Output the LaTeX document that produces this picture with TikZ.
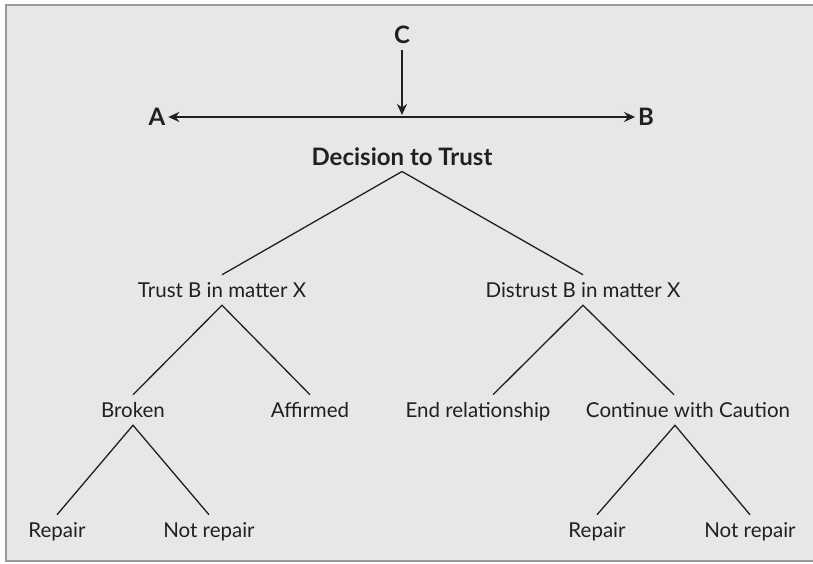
\documentclass[tikz,border=0pt]{standalone}
\usepackage{fontspec}
\setmainfont{Lato}
\usetikzlibrary{arrows.meta}
\definecolor{panel}{HTML}{E6E7E8}
\definecolor{frame}{HTML}{9A9A9A}
\definecolor{ink}{HTML}{231F20}
\begin{document}
\begin{tikzpicture}[x=1pt,y=-1pt,
  lbl/.style={inner sep=0pt, outer sep=8pt, text height=14.5pt, text depth=0pt, font=\fontsize{20.5}{20.5}\selectfont, text=ink},
  blbl/.style={lbl, text height=17pt, font=\fontsize{24}{24}\selectfont\bfseries},
  branch/.style={draw=ink, line width=1.3pt},
  axis/.style={draw=ink, line width=2pt, -{Stealth[length=11pt,width=10pt]}}]
\useasboundingbox (0,0) rectangle (813,564);
\fill[white] (0,0) rectangle (813,564);
\filldraw[fill=panel, draw=frame, line width=2.2pt] (6,5) rectangle (830,561);
% top
\node[blbl, outer sep=3pt] (C) at (402,35) {C};
\node[blbl, outer sep=3pt] (A) at (157,117) {A};
\node[blbl, outer sep=3pt] (B) at (646,117) {B};
\coordinate (mid) at (402,115);
\node[blbl, outer sep=6pt] (dec) at (402,157) {Decision to Trust};
\draw[axis] (C.south) ++(0,4) -- (mid);
\draw[axis, {Stealth[length=11pt,width=10pt]}-{Stealth[length=11pt,width=10pt]}] (A.east) -- (B.west);
% level 1
\node[lbl] (trust) at (222,290) {Trust B in matter X};
\node[lbl] (dist) at (583,290) {Distrust B in matter X};
% level 2
\node[lbl] (broken) at (133,410) {Broken};
\node[lbl] (aff) at (310,410) {Affirmed};
\node[lbl] (end) at (478,410) {End relationship};
\node[lbl] (cont) at (688,410) {Continue with Caution};
% level 3
\node[lbl] (rep1) at (57,530) {Repair};
\node[lbl] (nrep1) at (209,530) {Not repair};
\node[lbl] (rep2) at (597,530) {Repair};
\node[lbl] (nrep2) at (750,530) {Not repair};
% branches
\draw[branch] (trust.north) -- (dec.south) -- (dist.north);
\draw[branch] (broken.north) -- (trust.south) -- (aff.north);
\draw[branch] (end.north -| 493,0) -- (dist.south) -- (cont.north -| 674,0);
\draw[branch] (rep1.north) -- (broken.south) -- (nrep1.north);
\draw[branch] (rep2.north) -- (cont.south -| 675,0) -- (nrep2.north);
\end{tikzpicture}
\end{document}
